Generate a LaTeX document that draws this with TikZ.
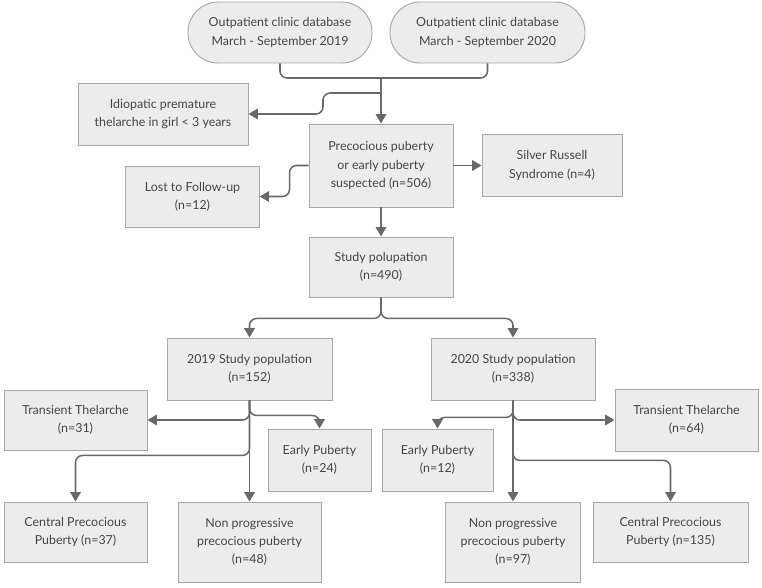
\documentclass[tikz,border=0pt]{standalone}
\usepackage{fontspec}
\setmainfont{Lato}
\usepackage{tikz}
\usetikzlibrary{arrows.meta, positioning}
\definecolor{boxfill}{RGB}{236, 236, 236}
\definecolor{boxline}{RGB}{168, 168, 168}
\definecolor{flowline}{RGB}{105, 105, 105}
\definecolor{flowtext}{RGB}{70, 70, 70}

\begin{document}
\begin{tikzpicture}[
    x=0.03cm, y=-0.03cm,
    every node/.style={font=\fontsize{10.6}{15.5}\selectfont, text=flowtext},
    box/.style={rectangle, draw=boxline, fill=boxfill, line width=0.8pt, align=center, inner sep=2pt},
    pill/.style={box, rounded corners=0.9cm},
    conn/.style={draw=flowline, line width=1.3pt, rounded corners=6pt, -{Triangle[length=8pt,width=9pt]}},
    plain/.style={draw=flowline, line width=1.3pt, rounded corners=6pt}
]
\useasboundingbox (0,0) rectangle (762,587);

% sources
\node[pill, minimum width=5.52cm, minimum height=1.83cm] (db19) at (280,32.5) {Outpatient clinic database\\March - September 2019};
\node[pill, minimum width=5.85cm, minimum height=1.83cm] (db20) at (487.5,32.5) {Outpatient clinic database\\March - September 2020};

% screening
\node[box, minimum width=5.1cm, minimum height=1.86cm] (idio) at (163,114) {Idiopatic premature\\thelarche in girl < 3 years};
\node[box, minimum width=4.32cm, minimum height=2.49cm] (prec) at (381,165.5) {Precocious puberty\\or early puberty\\suspected (n=506)};
\node[box, minimum width=4.2cm, minimum height=1.86cm] (silver) at (552,165.5) {Silver Russell\\Syndrome (n=4)};
\node[box, minimum width=4.0cm, minimum height=1.83cm] (lost) at (192.5,196.5) {Lost to Follow-up\\(n=12)};
\node[box, minimum width=4.32cm, minimum height=1.8cm] (study) at (381,267) {Study polupation\\(n=490)};

% yearly groups
\node[box, minimum width=4.95cm, minimum height=1.86cm] (s19) at (249.5,369) {2019 Study population\\(n=152)};
\node[box, minimum width=4.92cm, minimum height=1.86cm] (s20) at (513,369) {2020 Study population\\(n=338)};

% 2019 outcomes
\node[box, minimum width=4.29cm, minimum height=1.8cm] (tt19) at (75.5,420) {Transient Thelarche\\(n=31)};
\node[box, minimum width=3.09cm, minimum height=1.86cm] (ep19) at (319.5,460) {Early Puberty\\(n=24)};
\node[box, minimum width=4.29cm, minimum height=1.8cm] (cpp19) at (75.5,532) {Central Precocious\\Puberty (n=37)};
\node[box, minimum width=4.29cm, minimum height=2.4cm] (np19) at (249.5,542) {Non progressive\\precocious puberty\\(n=48)};

% 2020 outcomes
\node[box, minimum width=3.33cm, minimum height=1.86cm] (ep20) at (437.5,460) {Early Puberty\\(n=12)};
\node[box, minimum width=4.29cm, minimum height=1.86cm] (tt20) at (686.5,420) {Transient Thelarche\\(n=64)};
\node[box, minimum width=4.65cm, minimum height=1.8cm] (cpp20) at (670.5,532) {Central Precocious\\Puberty (n=135)};
\node[box, minimum width=4.05cm, minimum height=2.4cm] (np20) at (513,542) {Non progressive\\precocious puberty\\(n=97)};

% connectors
\coordinate (merge) at (381,78);
\coordinate (split) at (381,93);
\draw[plain] (db19.south) |- (merge);
\draw[plain] (db20.south) |- (merge);
\draw[conn] (merge) -- (prec.north);
\draw[conn] (split) -- ++(-58,0) |- (idio.east);
\draw[conn] (prec.west) -- ++(-19,0) |- (lost.east);
\draw[conn] (prec.east) -- (silver.west);
\draw[conn] (prec.south) -- (study.north);
\draw[conn] (study.south) -- ++(0,21) -| (s19.north);
\draw[conn] (study.south) -- ++(0,21) -| (s20.north);

\draw[conn] (s19.south) -- (np19.north);
\draw[conn] (s19.south) |- (tt19.east);
\draw[conn] (s19.south) -- ++(0,15) -| (ep19.north);
\draw[conn] (s19.south) -- ++(0,55) -| (cpp19.north);

\draw[conn] (s20.south) -- (np20.north);
\draw[conn] (s20.south) |- (tt20.west);
\draw[conn] (s20.south) -- ++(0,17) -| (ep20.north);
\draw[conn] (s20.south) -- ++(0,60) -| (cpp20.north);

\end{tikzpicture}
\end{document}
